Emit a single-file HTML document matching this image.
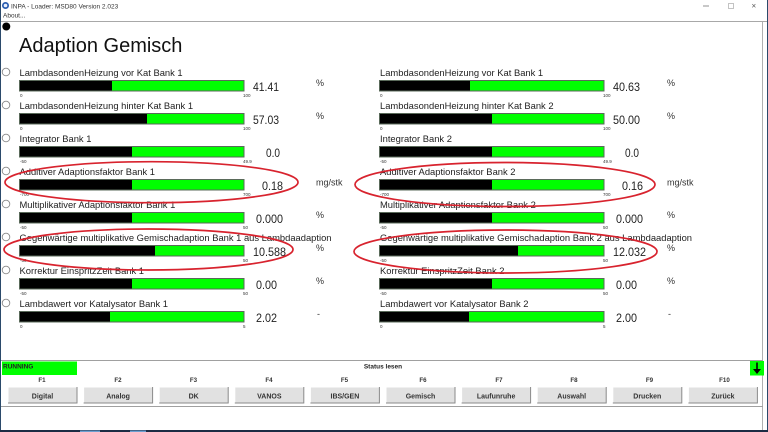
<!DOCTYPE html>
<html>
<head>
<meta charset="utf-8">
<style>
  html,body{margin:0;padding:0;background:#fff;}
  body{width:768px;height:432px;overflow:hidden;}
  svg{display:block;font-family:"Liberation Sans",Arial,sans-serif;}
</style>
</head>
<body>
<svg width="768" height="432" viewBox="0 0 768 432" xmlns="http://www.w3.org/2000/svg">
  <rect x="0" y="0" width="768" height="432" fill="#ffffff"/>

  <!-- title bar -->
  <circle cx="5.5" cy="5.5" r="3.5" fill="#2a5db0"/>
  <circle cx="5.5" cy="5.5" r="1.8" fill="#e8f0ff"/>
  <text x="11" y="8.3" font-size="6.5" fill="#333">INPA - Loader:  MSD80 Version 2.023</text>
  <text x="3" y="17.5" font-size="6.5" fill="#333">About...</text>
  <line x1="703" y1="6" x2="709" y2="6" stroke="#777" stroke-width="0.8"/>
  <rect x="728.5" y="3.5" width="5" height="5" fill="none" stroke="#aaa" stroke-width="0.7"/>
  <text x="751.5" y="8.5" font-size="8" fill="#555">×</text>
  <line x1="0" y1="21.5" x2="768" y2="21.5" stroke="#a8a8a8" stroke-width="1"/>

  <!-- window borders -->
  <rect x="0" y="0" width="1" height="432" fill="#2b4a6b"/>
  <rect x="767" y="0" width="1" height="432" fill="#2b4a6b"/>
  <line x1="762.5" y1="22" x2="762.5" y2="430" stroke="#b0b0b0" stroke-width="1"/>
  <rect x="0" y="430" width="768" height="2" fill="#1c2c44"/>
  <rect x="80" y="430.5" width="20" height="1.5" fill="#6d9fd0"/>
  <rect x="130" y="430.5" width="16" height="1.5" fill="#6d9fd0"/>

  <!-- black dot -->
  <circle cx="6.3" cy="26.5" r="4" fill="#000"/>

  <!-- Title -->
  <text x="19" y="52" font-size="20" fill="#111">Adaption Gemisch</text>

  <g id="rows" fill="#222">
  </g>

  <!-- ROWS generated statically -->
  <!-- row template: T = 80 + 33*i -->
  <!-- Row 0 -->
  <g>
    <circle cx="6" cy="72" r="3.8" fill="#fff" stroke="#8a8a8a" stroke-width="0.9"/>
    <text x="19.5" y="76" font-size="9.4" fill="#222">LambdasondenHeizung vor Kat Bank 1</text>
    <rect x="19.5" y="80.5" width="224.5" height="10.5" fill="#00ff00" stroke="#5a6a5a" stroke-width="1"/>
    <rect x="20" y="81" width="92" height="9.5" fill="#000"/>
    <text x="20" y="97" font-size="4.5" fill="#333">0</text>
    <text x="243" y="97" font-size="4.5" fill="#333">100</text>
    <text x="253" y="91" font-size="11.5" fill="#222" textLength="26" lengthAdjust="spacingAndGlyphs">41.41</text>
    <text x="316" y="86" font-size="9" fill="#333">%</text>

    <text x="380" y="76" font-size="9.4" fill="#222">LambdasondenHeizung vor Kat Bank 1</text>
    <rect x="379.5" y="80.5" width="224.5" height="10.5" fill="#00ff00" stroke="#5a6a5a" stroke-width="1"/>
    <rect x="380" y="81" width="90" height="9.5" fill="#000"/>
    <text x="380" y="97" font-size="4.5" fill="#333">0</text>
    <text x="603" y="97" font-size="4.5" fill="#333">100</text>
    <text x="613" y="91" font-size="11.5" fill="#222" textLength="27" lengthAdjust="spacingAndGlyphs">40.63</text>
    <text x="667" y="86" font-size="9" fill="#333">%</text>
  </g>

  <!-- Row 1 T=113 -->
  <g>
    <circle cx="6" cy="105" r="3.8" fill="#fff" stroke="#8a8a8a" stroke-width="0.9"/>
    <text x="19.5" y="109" font-size="9.4" fill="#222">LambdasondenHeizung hinter Kat Bank 1</text>
    <rect x="19.5" y="113.5" width="224.5" height="10.5" fill="#00ff00" stroke="#5a6a5a" stroke-width="1"/>
    <rect x="20" y="114" width="127" height="9.5" fill="#000"/>
    <text x="20" y="130" font-size="4.5" fill="#333">0</text>
    <text x="243" y="130" font-size="4.5" fill="#333">100</text>
    <text x="253" y="124" font-size="11.5" fill="#222" textLength="26" lengthAdjust="spacingAndGlyphs">57.03</text>
    <text x="316" y="119" font-size="9" fill="#333">%</text>

    <text x="380" y="109" font-size="9.4" fill="#222">LambdasondenHeizung hinter Kat Bank 2</text>
    <rect x="379.5" y="113.5" width="224.5" height="10.5" fill="#00ff00" stroke="#5a6a5a" stroke-width="1"/>
    <rect x="380" y="114" width="112" height="9.5" fill="#000"/>
    <text x="380" y="130" font-size="4.5" fill="#333">0</text>
    <text x="603" y="130" font-size="4.5" fill="#333">100</text>
    <text x="613" y="124" font-size="11.5" fill="#222" textLength="27" lengthAdjust="spacingAndGlyphs">50.00</text>
    <text x="667" y="119" font-size="9" fill="#333">%</text>
  </g>

  <!-- Row 2 T=146 -->
  <g>
    <circle cx="6" cy="138" r="3.8" fill="#fff" stroke="#8a8a8a" stroke-width="0.9"/>
    <text x="19.5" y="142" font-size="9.4" fill="#222">Integrator Bank 1</text>
    <rect x="19.5" y="146.5" width="224.5" height="10.5" fill="#00ff00" stroke="#5a6a5a" stroke-width="1"/>
    <rect x="20" y="147" width="112" height="9.5" fill="#000"/>
    <text x="20" y="163" font-size="4.5" fill="#333">-50</text>
    <text x="243" y="163" font-size="4.5" fill="#333">49.9</text>
    <text x="266" y="157" font-size="11.5" fill="#222" textLength="14" lengthAdjust="spacingAndGlyphs">0.0</text>

    <text x="380" y="142" font-size="9.4" fill="#222">Integrator Bank 2</text>
    <rect x="379.5" y="146.5" width="224.5" height="10.5" fill="#00ff00" stroke="#5a6a5a" stroke-width="1"/>
    <rect x="380" y="147" width="112" height="9.5" fill="#000"/>
    <text x="380" y="163" font-size="4.5" fill="#333">-50</text>
    <text x="603" y="163" font-size="4.5" fill="#333">49.9</text>
    <text x="625" y="157" font-size="11.5" fill="#222" textLength="14" lengthAdjust="spacingAndGlyphs">0.0</text>
  </g>

  <!-- Row 3 T=179 -->
  <g>
    <circle cx="6" cy="171" r="3.8" fill="#fff" stroke="#8a8a8a" stroke-width="0.9"/>
    <text x="19.5" y="175" font-size="9.4" fill="#222">Additiver Adaptionsfaktor Bank 1</text>
    <rect x="19.5" y="179.5" width="224.5" height="10.5" fill="#00ff00" stroke="#5a6a5a" stroke-width="1"/>
    <rect x="20" y="180" width="112" height="9.5" fill="#000"/>
    <text x="20" y="196" font-size="4.5" fill="#333">-700</text>
    <text x="243" y="196" font-size="4.5" fill="#333">700</text>
    <text x="262" y="190" font-size="11.5" fill="#222" textLength="21" lengthAdjust="spacingAndGlyphs">0.18</text>
    <text x="316" y="185.5" font-size="9" fill="#333">mg/stk</text>

    <text x="380" y="175" font-size="9.4" fill="#222">Additiver Adaptionsfaktor Bank 2</text>
    <rect x="379.5" y="179.5" width="224.5" height="10.5" fill="#00ff00" stroke="#5a6a5a" stroke-width="1"/>
    <rect x="380" y="180" width="112" height="9.5" fill="#000"/>
    <text x="380" y="196" font-size="4.5" fill="#333">-700</text>
    <text x="603" y="196" font-size="4.5" fill="#333">700</text>
    <text x="622" y="190" font-size="11.5" fill="#222" textLength="21" lengthAdjust="spacingAndGlyphs">0.16</text>
    <text x="667" y="185.5" font-size="9" fill="#333">mg/stk</text>
  </g>

  <!-- Row 4 T=212 -->
  <g>
    <circle cx="6" cy="204" r="3.8" fill="#fff" stroke="#8a8a8a" stroke-width="0.9"/>
    <text x="19.5" y="208" font-size="9.4" fill="#222">Multiplikativer Adaptionsfaktor Bank 1</text>
    <rect x="19.5" y="212.5" width="224.5" height="10.5" fill="#00ff00" stroke="#5a6a5a" stroke-width="1"/>
    <rect x="20" y="213" width="112" height="9.5" fill="#000"/>
    <text x="20" y="229" font-size="4.5" fill="#333">-50</text>
    <text x="243" y="229" font-size="4.5" fill="#333">50</text>
    <text x="256" y="223" font-size="11.5" fill="#222" textLength="27" lengthAdjust="spacingAndGlyphs">0.000</text>
    <text x="316" y="218" font-size="9" fill="#333">%</text>

    <text x="380" y="208" font-size="9.4" fill="#222">Multiplikativer Adaptionsfaktor Bank 2</text>
    <rect x="379.5" y="212.5" width="224.5" height="10.5" fill="#00ff00" stroke="#5a6a5a" stroke-width="1"/>
    <rect x="380" y="213" width="112" height="9.5" fill="#000"/>
    <text x="380" y="229" font-size="4.5" fill="#333">-50</text>
    <text x="603" y="229" font-size="4.5" fill="#333">50</text>
    <text x="616" y="223" font-size="11.5" fill="#222" textLength="27" lengthAdjust="spacingAndGlyphs">0.000</text>
    <text x="667" y="218" font-size="9" fill="#333">%</text>
  </g>

  <!-- Row 5 T=245 -->
  <g>
    <circle cx="6" cy="237" r="3.8" fill="#fff" stroke="#8a8a8a" stroke-width="0.9"/>
    <text x="19.5" y="241" font-size="9.4" fill="#222" textLength="312" lengthAdjust="spacingAndGlyphs">Gegenwärtige multiplikative Gemischadaption Bank 1 aus Lambdaadaption</text>
    <rect x="19.5" y="245.5" width="224.5" height="10.5" fill="#00ff00" stroke="#5a6a5a" stroke-width="1"/>
    <rect x="20" y="246" width="135" height="9.5" fill="#000"/>
    <text x="20" y="262" font-size="4.5" fill="#333">-50</text>
    <text x="243" y="262" font-size="4.5" fill="#333">50</text>
    <text x="253" y="256" font-size="11.5" fill="#222" textLength="33" lengthAdjust="spacingAndGlyphs">10.588</text>
    <text x="316" y="251" font-size="9" fill="#333">%</text>

    <text x="380" y="241" font-size="9.4" fill="#222" textLength="312" lengthAdjust="spacingAndGlyphs">Gegenwärtige multiplikative Gemischadaption Bank 2 aus Lambdaadaption</text>
    <rect x="379.5" y="245.5" width="224.5" height="10.5" fill="#00ff00" stroke="#5a6a5a" stroke-width="1"/>
    <rect x="380" y="246" width="138" height="9.5" fill="#000"/>
    <text x="380" y="262" font-size="4.5" fill="#333">-50</text>
    <text x="603" y="262" font-size="4.5" fill="#333">50</text>
    <text x="613" y="256" font-size="11.5" fill="#222" textLength="33" lengthAdjust="spacingAndGlyphs">12.032</text>
    <text x="667" y="251" font-size="9" fill="#333">%</text>
  </g>

  <!-- Row 6 T=278 -->
  <g>
    <circle cx="6" cy="270" r="3.8" fill="#fff" stroke="#8a8a8a" stroke-width="0.9"/>
    <text x="19.5" y="274" font-size="9.4" fill="#222">Korrektur EinspritzZeit Bank 1</text>
    <rect x="19.5" y="278.5" width="224.5" height="10.5" fill="#00ff00" stroke="#5a6a5a" stroke-width="1"/>
    <rect x="20" y="279" width="112" height="9.5" fill="#000"/>
    <text x="20" y="295" font-size="4.5" fill="#333">-50</text>
    <text x="243" y="295" font-size="4.5" fill="#333">50</text>
    <text x="256" y="289" font-size="11.5" fill="#222" textLength="21" lengthAdjust="spacingAndGlyphs">0.00</text>
    <text x="316" y="284" font-size="9" fill="#333">%</text>

    <text x="380" y="274" font-size="9.4" fill="#222">Korrektur EinspritzZeit Bank 2</text>
    <rect x="379.5" y="278.5" width="224.5" height="10.5" fill="#00ff00" stroke="#5a6a5a" stroke-width="1"/>
    <rect x="380" y="279" width="112" height="9.5" fill="#000"/>
    <text x="380" y="295" font-size="4.5" fill="#333">-50</text>
    <text x="603" y="295" font-size="4.5" fill="#333">50</text>
    <text x="616" y="289" font-size="11.5" fill="#222" textLength="21" lengthAdjust="spacingAndGlyphs">0.00</text>
    <text x="667" y="284" font-size="9" fill="#333">%</text>
  </g>

  <!-- Row 7 T=311 -->
  <g>
    <circle cx="6" cy="303" r="3.8" fill="#fff" stroke="#8a8a8a" stroke-width="0.9"/>
    <text x="19.5" y="307" font-size="9.4" fill="#222">Lambdawert vor Katalysator Bank 1</text>
    <rect x="19.5" y="311.5" width="224.5" height="10.5" fill="#00ff00" stroke="#5a6a5a" stroke-width="1"/>
    <rect x="20" y="312" width="90" height="9.5" fill="#000"/>
    <text x="20" y="328" font-size="4.5" fill="#333">0</text>
    <text x="243" y="328" font-size="4.5" fill="#333">5</text>
    <text x="256" y="322" font-size="11.5" fill="#222" textLength="21" lengthAdjust="spacingAndGlyphs">2.02</text>
    <text x="317" y="317" font-size="9" fill="#333">-</text>

    <text x="380" y="307" font-size="9.4" fill="#222">Lambdawert vor Katalysator Bank 2</text>
    <rect x="379.5" y="311.5" width="224.5" height="10.5" fill="#00ff00" stroke="#5a6a5a" stroke-width="1"/>
    <rect x="380" y="312" width="89" height="9.5" fill="#000"/>
    <text x="380" y="328" font-size="4.5" fill="#333">0</text>
    <text x="603" y="328" font-size="4.5" fill="#333">5</text>
    <text x="616" y="322" font-size="11.5" fill="#222" textLength="21" lengthAdjust="spacingAndGlyphs">2.00</text>
    <text x="668" y="317" font-size="9" fill="#333">-</text>
  </g>

  <!-- red ellipses -->
  <g fill="none" stroke="#d8232e" stroke-width="1.7">
    <ellipse cx="151.5" cy="182.2" rx="146.5" ry="20.5"/>
    <ellipse cx="505" cy="184.5" rx="150" ry="22"/>
    <ellipse cx="148.5" cy="249.5" rx="144.5" ry="20.5"/>
    <ellipse cx="505.5" cy="251.5" rx="151.5" ry="21.5"/>
  </g>

  <!-- bottom status area -->
  <line x1="1" y1="360.5" x2="763" y2="360.5" stroke="#a0a0a0" stroke-width="1"/>
  <rect x="2" y="361.5" width="75" height="13.5" fill="#00ff00"/>
  <text x="3" y="368.5" font-size="6.5" font-weight="bold" fill="#222">RUNNING</text>
  <text x="383" y="368.5" font-size="6.5" font-weight="bold" fill="#222" text-anchor="middle">Status lesen</text>
  <rect x="750" y="361" width="14" height="14.5" fill="#00ff00"/>
  <line x1="757" y1="362.5" x2="757" y2="372" stroke="#000" stroke-width="1.6"/>
  <polygon points="753,369 761,369 757,374" fill="#000"/>

  <!-- F labels & buttons -->
  <g font-size="6.2" font-weight="bold" fill="#333" text-anchor="middle">
    <text x="42" y="382">F1</text>
    <text x="118" y="382">F2</text>
    <text x="193.5" y="382">F3</text>
    <text x="269" y="382">F4</text>
    <text x="344.5" y="382">F5</text>
    <text x="423" y="382">F6</text>
    <text x="499" y="382">F7</text>
    <text x="574" y="382">F8</text>
    <text x="649.5" y="382">F9</text>
    <text x="724.5" y="382">F10</text>
  </g>

  <g>
    <!-- button i: x = 8 + 75.6*i, width 69, y 387-403 -->
    <g>
      <rect x="8" y="387" width="69" height="16" fill="#e1e1e1"/>
      <polyline points="8,403 8,387 77,387" fill="none" stroke="#fff" stroke-width="1"/>
      <polyline points="8,403 77,403 77,387" fill="none" stroke="#8a8a8a" stroke-width="1"/>
    </g>
    <g>
      <rect x="83.6" y="387" width="69" height="16" fill="#e1e1e1"/>
      <polyline points="83.6,403 83.6,387 152.6,387" fill="none" stroke="#fff" stroke-width="1"/>
      <polyline points="83.6,403 152.6,403 152.6,387" fill="none" stroke="#8a8a8a" stroke-width="1"/>
    </g>
    <g>
      <rect x="159.2" y="387" width="69" height="16" fill="#e1e1e1"/>
      <polyline points="159.2,403 159.2,387 228.2,387" fill="none" stroke="#fff" stroke-width="1"/>
      <polyline points="159.2,403 228.2,403 228.2,387" fill="none" stroke="#8a8a8a" stroke-width="1"/>
    </g>
    <g>
      <rect x="234.8" y="387" width="69" height="16" fill="#e1e1e1"/>
      <polyline points="234.8,403 234.8,387 303.8,387" fill="none" stroke="#fff" stroke-width="1"/>
      <polyline points="234.8,403 303.8,403 303.8,387" fill="none" stroke="#8a8a8a" stroke-width="1"/>
    </g>
    <g>
      <rect x="310.4" y="387" width="69" height="16" fill="#e1e1e1"/>
      <polyline points="310.4,403 310.4,387 379.4,387" fill="none" stroke="#fff" stroke-width="1"/>
      <polyline points="310.4,403 379.4,403 379.4,387" fill="none" stroke="#8a8a8a" stroke-width="1"/>
    </g>
    <g>
      <rect x="386" y="387" width="69" height="16" fill="#e1e1e1"/>
      <polyline points="386,403 386,387 455,387" fill="none" stroke="#fff" stroke-width="1"/>
      <polyline points="386,403 455,403 455,387" fill="none" stroke="#8a8a8a" stroke-width="1"/>
    </g>
    <g>
      <rect x="461.6" y="387" width="69" height="16" fill="#e1e1e1"/>
      <polyline points="461.6,403 461.6,387 530.6,387" fill="none" stroke="#fff" stroke-width="1"/>
      <polyline points="461.6,403 530.6,403 530.6,387" fill="none" stroke="#8a8a8a" stroke-width="1"/>
    </g>
    <g>
      <rect x="537.2" y="387" width="69" height="16" fill="#e1e1e1"/>
      <polyline points="537.2,403 537.2,387 606.2,387" fill="none" stroke="#fff" stroke-width="1"/>
      <polyline points="537.2,403 606.2,403 606.2,387" fill="none" stroke="#8a8a8a" stroke-width="1"/>
    </g>
    <g>
      <rect x="612.8" y="387" width="69" height="16" fill="#e1e1e1"/>
      <polyline points="612.8,403 612.8,387 681.8,387" fill="none" stroke="#fff" stroke-width="1"/>
      <polyline points="612.8,403 681.8,403 681.8,387" fill="none" stroke="#8a8a8a" stroke-width="1"/>
    </g>
    <g>
      <rect x="688.4" y="387" width="69" height="16" fill="#e1e1e1"/>
      <polyline points="688.4,403 688.4,387 757.4,387" fill="none" stroke="#fff" stroke-width="1"/>
      <polyline points="688.4,403 757.4,403 757.4,387" fill="none" stroke="#8a8a8a" stroke-width="1"/>
    </g>
  </g>

  <g font-size="7" font-weight="bold" fill="#333" text-anchor="middle">
    <text x="42.5" y="398.3">Digital</text>
    <text x="118.1" y="398.3">Analog</text>
    <text x="193.7" y="398.3">DK</text>
    <text x="269.3" y="398.3">VANOS</text>
    <text x="344.9" y="398.3">IBS/GEN</text>
    <text x="420.5" y="398.3">Gemisch</text>
    <text x="496.1" y="398.3">Laufunruhe</text>
    <text x="571.7" y="398.3">Auswahl</text>
    <text x="647.3" y="398.3">Drucken</text>
    <text x="722.9" y="398.3">Zurück</text>
  </g>

  <line x1="1" y1="406.5" x2="763" y2="406.5" stroke="#a0a0a0" stroke-width="1"/>
</svg>
</body>
</html>
